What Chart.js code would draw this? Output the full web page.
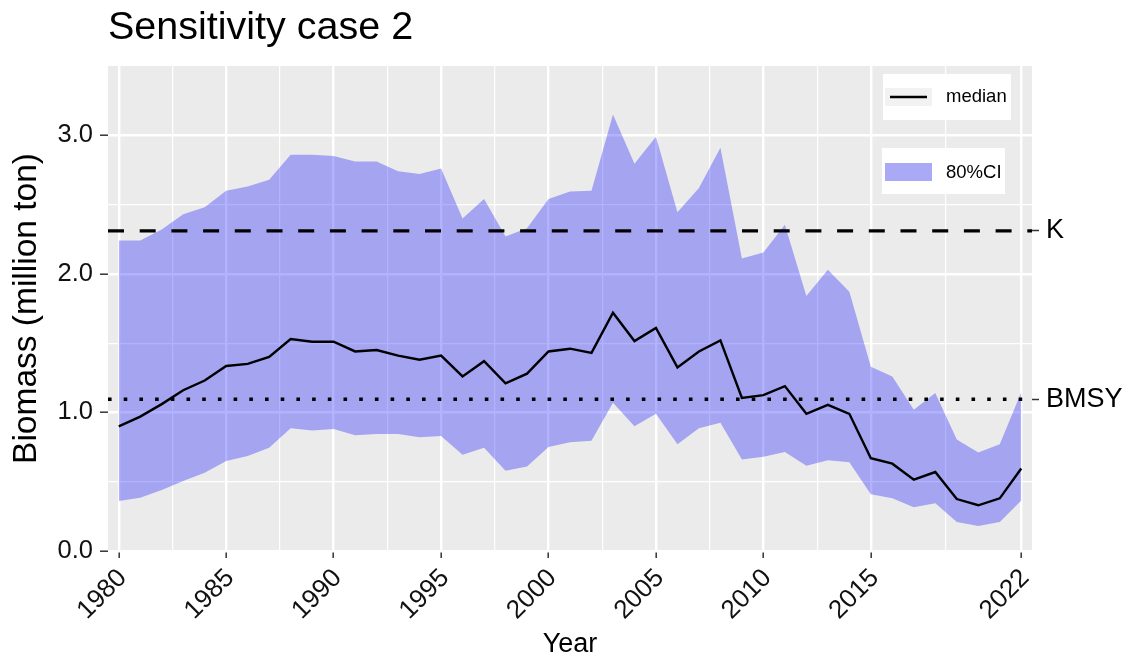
<!DOCTYPE html>
<html>
<head>
<meta charset="utf-8">
<script src="https://cdn.jsdelivr.net/npm/chart.js@4.4.1/dist/chart.umd.min.js"></script>
<style>
  body { margin: 0; background: #ffffff; }
  #holder { width: 1133px; height: 664px; }
</style>
</head>
<body>
<div id="holder">
  <canvas id="myChart" width="1133" height="664"></canvas>
</div>
<script>
// data
var years = [1980, 1981, 1982, 1983, 1984, 1985, 1986, 1987, 1988, 1989,
             1990, 1991, 1992, 1993, 1994, 1995, 1996, 1997, 1998, 1999,
             2000, 2001, 2002, 2003, 2004, 2005, 2006, 2007, 2008, 2009,
             2010, 2011, 2012, 2013, 2014, 2015, 2016, 2017, 2018, 2019,
             2020, 2021, 2022];
var median = [0.90, 0.97, 1.06, 1.16, 1.23, 1.335, 1.35, 1.40, 1.53, 1.51,
              1.51, 1.44, 1.45, 1.41, 1.38, 1.41, 1.26, 1.37, 1.21, 1.28,
              1.44, 1.46, 1.43, 1.72, 1.515, 1.61, 1.325, 1.44, 1.52, 1.105,
              1.125, 1.19, 0.99, 1.055, 0.99, 0.67, 0.63, 0.515, 0.57, 0.375,
              0.33, 0.38, 0.595];
var upper = [2.24, 2.24, 2.32, 2.43, 2.48, 2.60, 2.63, 2.68, 2.86, 2.86,
             2.85, 2.81, 2.81, 2.74, 2.72, 2.76, 2.40, 2.54, 2.27, 2.33,
             2.54, 2.595, 2.60, 3.15, 2.795, 2.99, 2.445, 2.62, 2.91, 2.11,
             2.155, 2.355, 1.84, 2.03, 1.87, 1.33, 1.26, 1.02, 1.14, 0.805,
             0.71, 0.77, 1.145];
var lower = [0.36, 0.385, 0.44, 0.505, 0.565, 0.65, 0.685, 0.745, 0.885, 0.87,
             0.88, 0.835, 0.845, 0.845, 0.82, 0.83, 0.695, 0.745, 0.58, 0.61,
             0.75, 0.785, 0.795, 1.07, 0.90, 0.99, 0.77, 0.885, 0.925, 0.66,
             0.68, 0.715, 0.615, 0.655, 0.64, 0.41, 0.38, 0.315, 0.345, 0.21,
             0.18, 0.21, 0.365];
var refNames = ['K', 'BMSY'];
var refValues = [2.31, 1.095];
var majorYears = [1980, 1985, 1990, 1995, 2000, 2005, 2010, 2015, 2022];
var minorYears = [1982.5, 1987.5, 1992.5, 1997.5, 2002.5, 2007.5, 2012.5, 2018.5];
var xRange = [1979.5, 2022.5];
var yRange = [0, 3.5];

var chartTitle = 'Sensitivity case 2';
var FONT = '"Liberation Sans", Arial, Helvetica, sans-serif';

function pts(vals) {
    return years.map(function (y, i) { return {x: y, y: vals[i]}; });
}
function hline(v) {
    return [{x: xRange[0], y: v}, {x: xRange[1], y: v}];
}
function isMajorY(v) {
    return Math.abs(v - Math.round(v)) < 1e-9;
}

// grey ggplot panel
var panelBg = {
    id: 'panelBg',
    beforeDraw: function (chart) {
        var a = chart.chartArea, ctx = chart.ctx;
        ctx.save();
        ctx.fillStyle = '#EBEBEB';
        ctx.fillRect(a.left, a.top, a.right - a.left, a.bottom - a.top);
        ctx.restore();
    }
};

// title left aligned with the panel, and the two legend boxes
var extras = {
    id: 'extras',
    afterDraw: function (chart) {
        var a = chart.chartArea, ctx = chart.ctx;
        ctx.save();
        ctx.fillStyle = '#000';
        ctx.font = '39.5px ' + FONT;
        ctx.textBaseline = 'alphabetic';
        ctx.textAlign = 'left';
        ctx.fillText(chartTitle, a.left, 39);

        var bx = a.right - 149;
        // median box
        ctx.fillStyle = '#ffffff';
        ctx.fillRect(bx, 74, 128, 46);
        ctx.fillStyle = '#F2F2F2';
        ctx.fillRect(bx + 2, 88, 47, 18);
        ctx.strokeStyle = '#000';
        ctx.lineWidth = 2.3;
        ctx.beginPath();
        ctx.moveTo(bx + 7, 97);
        ctx.lineTo(bx + 44, 97);
        ctx.stroke();
        ctx.fillStyle = '#000';
        ctx.font = '18.5px ' + FONT;
        ctx.textBaseline = 'middle';
        ctx.fillText('median', bx + 63, 97);
        // CI box
        ctx.fillStyle = '#ffffff';
        ctx.fillRect(bx - 1, 148, 123, 46);
        ctx.fillStyle = '#F2F2F2';
        ctx.fillRect(bx + 2, 163, 47, 18);
        ctx.fillStyle = 'rgba(0,0,255,0.3)';
        ctx.fillRect(bx + 2, 163, 47, 18);
        ctx.fillStyle = '#000';
        ctx.fillText('80%CI', bx + 63, 173);
        ctx.restore();
    }
};

var ctx = document.getElementById('myChart').getContext('2d');

var config = {
    type: 'line',
    data: {
        datasets: [{
            label: 'upper',
            data: pts(upper),
            order: 10,
            borderWidth: 0,
            borderColor: 'rgba(0,0,0,0)',
            backgroundColor: 'rgba(0,0,255,0.3)',
            pointRadius: 0,
            fill: '+1'
        }, {
            label: 'lower',
            data: pts(lower),
            order: 9,
            borderWidth: 0,
            borderColor: 'rgba(0,0,0,0)',
            pointRadius: 0,
            fill: false
        }, {
            label: 'median',
            data: pts(median),
            order: 3,
            borderColor: '#000000',
            borderWidth: 2.4,
            pointRadius: 0,
            fill: false
        }, {
            label: 'K',
            data: hline(refValues[0]),
            order: 2,
            borderColor: '#000000',
            borderWidth: 3.2,
            borderDash: [16, 15.7],
            pointRadius: 0,
            fill: false
        }, {
            label: 'BMSY',
            data: hline(refValues[1]),
            order: 1,
            borderColor: '#000000',
            borderWidth: 3.6,
            borderDash: [3.6, 12.1],
            pointRadius: 0,
            fill: false
        }]
    },
    options: {
        responsive: false,
        animation: false,
        layout: {padding: {top: 66, left: 0, right: 0, bottom: 0}},
        plugins: {
            legend: {display: false},
            tooltip: {enabled: false},
            title: {display: false}
        },
        elements: {line: {tension: 0}},
        scales: {
            x: {
                type: 'linear',
                min: xRange[0],
                max: xRange[1],
                afterBuildTicks: function (scale) {
                    scale.ticks = majorYears.concat(minorYears).sort(function (a, b) { return a - b; })
                        .map(function (v) { return {value: v}; });
                },
                afterFit: function (scale) { scale.height = 113; },
                border: {display: false},
                grid: {
                    color: '#ffffff',
                    lineWidth: function (c) { return majorYears.indexOf(c.tick.value) >= 0 ? 2.4 : 1.2; },
                    tickColor: function (c) { return majorYears.indexOf(c.tick.value) >= 0 ? '#333333' : 'rgba(0,0,0,0)'; },
                    tickLength: 7,
                    tickWidth: 1.5
                },
                ticks: {
                    autoSkip: false,
                    minRotation: 45,
                    maxRotation: 45,
                    padding: 5,
                    labelOffset: 4,
                    color: '#111111',
                    font: {family: FONT, size: 26},
                    callback: function (v) { return majorYears.indexOf(v) >= 0 ? String(v) : ''; }
                },
                title: {
                    display: true,
                    text: 'Year',
                    color: '#000',
                    font: {family: FONT, size: 27},
                    padding: {top: 0, bottom: 3}
                }
            },
            y: {
                type: 'linear',
                position: 'left',
                min: yRange[0],
                max: yRange[1],
                afterFit: function (scale) { scale.width = 108; },
                border: {display: false},
                grid: {
                    color: function (c) { return c.tick.value >= yRange[1] ? 'rgba(0,0,0,0)' : '#ffffff'; },
                    lineWidth: function (c) { return isMajorY(c.tick.value) ? 2.4 : 1.2; },
                    tickColor: function (c) { return isMajorY(c.tick.value) && c.tick.value < yRange[1] ? '#333333' : 'rgba(0,0,0,0)'; },
                    tickLength: 8,
                    tickWidth: 1.5
                },
                ticks: {
                    stepSize: 0.5,
                    autoSkip: false,
                    padding: 7,
                    color: '#111111',
                    font: {family: FONT, size: 25.5},
                    callback: function (v) { return isMajorY(v) && v < yRange[1] ? v.toFixed(1) : ''; }
                },
                title: {
                    display: true,
                    text: 'Biomass (million ton)',
                    color: '#000',
                    font: {family: FONT, size: 33.5},
                    padding: {top: 7, bottom: 0}
                }
            },
            y2: {
                type: 'linear',
                position: 'right',
                min: yRange[0],
                max: yRange[1],
                afterBuildTicks: function (scale) {
                    scale.ticks = refValues.map(function (v) { return {value: v}; });
                },
                afterFit: function (scale) { scale.width = 101; },
                border: {display: false},
                grid: {
                    drawOnChartArea: false,
                    tickColor: '#333333',
                    tickLength: 7,
                    tickWidth: 1.5
                },
                ticks: {
                    autoSkip: false,
                    padding: 7,
                    color: '#000',
                    font: {family: FONT, size: 27},
                    callback: function (v, i) { return refNames[i]; }
                }
            }
        }
    },
    plugins: [panelBg, extras]
};

window.biomassChart = new Chart(ctx, config);
</script>
</body>
</html>
